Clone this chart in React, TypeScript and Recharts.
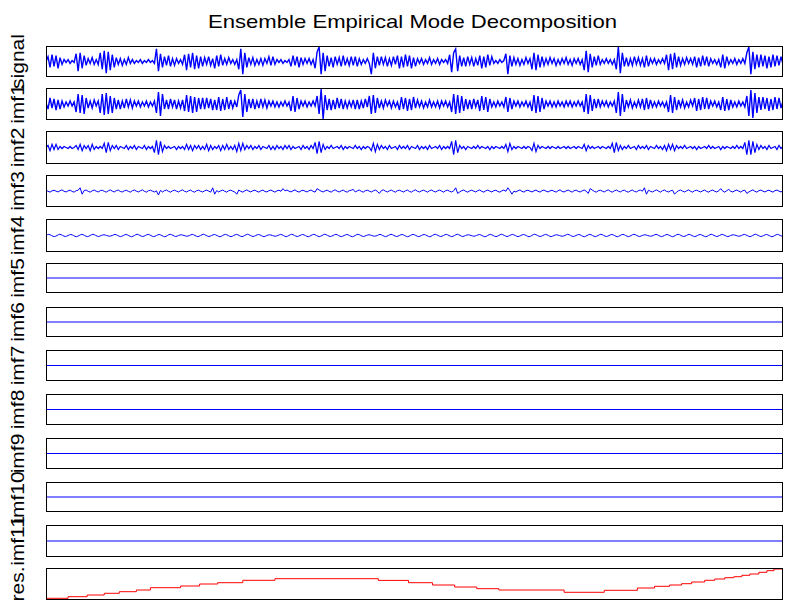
import React from "react";
import { LineChart, Line, XAxis, YAxis } from "recharts";

const TITLE = "Ensemble Empirical Mode Decomposition";
const labels = ["signal", "imf1", "imf2", "imf3", "imf4", "imf5", "imf6", "imf7", "imf8", "imf9", "imf10", "imf11", "res."];

// sample values (approx. pixel units around each panel's centre line)
const signal = [
  0, 5, -6, 7, -5, 6, -7, 4, -3,
  2, -1, 2, -2, 1, -1,
  8, -10, 9, -7, 6,
  -4, 3, -2, 4, -3, 2, -3,
  9, -8, 11, -12, 10, -9, 7, -6,
  4, -3, 3, -4, 2, -3, 4, -2, 2,
  -2, 1, -1, 2, -2, 1, -1, 2, -1, 1, -2,
  13, -10, 8,
  -6, 5, -4, 6, -5, 3, -4,
  3, -2, 2, -3,
  7, -9, 8, -6, 9, -8, 6, -7, 5,
  -5, 4, -3, 5, -4, 3,
  -7, 6, -5, 7,
  -4, 3, -3, 4, -2,
  2, -3, 2,
  -8, 13, -13, 9, -6,
  4, -3, 4, -4, 2, -3, 3, -4, 3, -2,
  5, -4, 5, -3,
  2, -1, 2, -2, 1, -1, 2,
  -5, 6, -4, 5, -6, 4, -3,
  3, -2, 3, -3, 2,
  -7, 10, 15, -13, 9, -10, 6,
  -5, 4, -6, 5, -3, 4, -5, 6, -4, 3, -4,
  5, -4, 5, -5, 3,
  -3, 2, -2, 3, -2,
  -13, 9, -7,
  5, -4, 5, -3, 4, -5, 3, -4, 5, -3,
  6, -7, 5, -6, 7, -5, 6, -7, 4, -5,
  3, -2, 3, -3, 2, -2, 4, -3, 2, -2, 3, -3, 2, -1, 2, -2,
  7, -11, 9, 13,
  -10, 6, -5, 4, -5, 5, -3, 4, -5, 3, -4,
  6, -7, 5, -6, 7, -4, 5,
  -2, 1, -2, 2, -1, 1,
  8, -13, 6, -5,
  4, -3, 3, -4, 2, -3, 4, -2, 3,
  -8, 9, -9, 7, -6, 5,
  -4, 3, -3, 4, -2, 3, -4, 2, -3, 3, -2, 4, -3, 2, -4, 3, -2, 3, -3, 2,
  -9, 11, -11, 8,
  -6, 5, -4, 6,
  -3, 2, -2, 3, -2, 2, -3, 2,
  -8, 15, -12, 9,
  -5, 4, -5, 3, -4, 5, -3, 4, -4, 3,
  -6, 6, -5,
  3, -2, 3, -3, 2, -2, 3, -2,
  7, -9, 8, -8, 9, -6, 5,
  -4, 3, -3, 4, -2, 3, -3,
  5, -6, 4, -5, 6, -4, 5, -5,
  3, -2, 2, -3, 2,
  -6, 7, -7, 5,
  -3, 2, -2, 3, -3, 2, -2, 3, -2,
  9, 15, -13, 10, -8,
  7, -6, 7, -5, 6, -7, 5, -6, 7, -5, 6, -4, 5, -3,
];

const imf1 = [
  1, -5, 6, -4, 5, -6, 4, -5, 3,
  -3, 2, -2, 3, -2, 2,
  -8, 10, -9, 9, -10, 6,
  -4, 3, -4, 4, -2, 3,
  -9, 10, -11, 11, -10, 8, -9, 6,
  -5, 4, -5, 3, -4, 5, -3, 4, -4,
  3, -2, 3, -3, 2, -2, 3, -3, 2, -2, 3,
  -9, 12, -12, 10,
  -5, 4, -5, 5, -3, 4, -5, 3, -4, 4,
  -7, 9, -8, 8, -9, 7, -8, 6, -5,
  6, -5, 6, -4, 5, -6, 4,
  -6, 7, -7, 5, -6, 7, -5, 4,
  -4, 3, -3,
  9, 14, -13, 10, -8,
  5, -4, 5, -5, 3, -4, 5, -3, 4, -4,
  3, -2, 3, -3, 2, -3, 2, -2, 3, -2, 2,
  -7, 8, -8, 6, -5,
  3, -2, 3, -3, 2, -2, 3, -2,
  8, -10, 15, -15, 9,
  -6, 5, -6, 4, -5, 6, -4, 5, -5, 3,
  -4, 3, -3, 4,
  -5, 4, -5, 3, -4, 5, -3,
  8, -10, 9, -9, 6,
  -4, 3, -4, 4, -2, 3, -4, 3, -3, 2,
  -6, 7, -5, 6, -7, 5, -6, 7, -4,
  4, -3, 3, -4, 2, -3, 4, -3, 2, -3, 3, -4, 3, -2, 3, -3, 2,
  -8, 10, -10, 9, -9, 8, -7, 5,
  -5, 4, -5, 5, -3, 4,
  -7, 8, -6, 7, -8, 5,
  -3, 2, -3, 3, -2, 2, -3,
  7, -8, 6, -5,
  3, -2, 3, -3, 2, -2, 3, -3, 2,
  -7, 9, -9, 8, -8, 6, -5,
  3, -2, 3, -3, 2, -3, 3, -2, 2, -3, 3, -2, 3, -3, 2, -2, 3, -2, 2,
  -8, 10, -10, 9, -7,
  5, -4, 5, -3,
  3, -2, 3, -3, 2, -2, 3,
  -9, 12, -12, 10, -8,
  4, -3, 4, -4, 2, -3, 4, -3,
  5, -6, 6, -5, 4,
  -3, 2, -3, 3, -2, 2, -3, 2,
  -8, 9, -9, 7, -6,
  4, -3, 4, -4, 2, -3, 4, -2,
  6, -7, 5, -6, 7, -5, 6, -5,
  3, -2, 3, -3, 2,
  -6, 7, -7, 5, -6, 4,
  -3, 2, -3, 3, -2, 2, -3,
  8, -12, 14, -14, 11, -9,
  7, -6, 7, -5, 6, -7, 5, -6, 7, -5, 6, -4, 3,
];

const imf2 = [
  0, 2, -3, 3, -2, 3, -2, 1,
  -1, 1, 0, -1, 1, -1, 0,
  2, -2, 3, -3, 2, -1, 2, -3, 3, -2, 1,
  -1, 1, -1,
  4, -5, 5, -3,
  2, -1, 2, -2, 1, 0, -1, 2, -2, 1, -1, 2, -2, 1, 0, -1, 2, -2, 1, -1, 1,
  -5, 7, -7, 6, -4,
  2, -1, 1, -1, 0, 1, -2, 1, -1, 1,
  -2, 3, -2, 2, -3, 2, -1, 2, -2, 1, -2, 3, -3, 2, -2, 1, -1, 2, -3, 2, -2, 3, -2, 1, -2, 2,
  -4, 4, -3, 4, -2,
  2, -1, 2, -2, 1, -1, 2, -2, 1, 0, -1, 2, -2, 1, -2, 2, -1, 1, -2, 2, -1, 2, -2, 1, -1, 0, 1, -2, 2, -1, 1, -2, 2, -1,
  5, -6, 6, -5, 3,
  -2, 1, -1, 2, -1, 0, 1, -1, 2, -2, 1, -1, 1, 0, -1, 2, -1, 1, -2, 1, -1, 1, 0,
  -3, 4, -4, 3,
  -2, 2, -1, 1, -2, 2, -1, 0, 1, -2, 2, -1, 1, -1, 2, -2, 1, 0, -1, 2, -2, 1, -1, 1, -2, 2, -1, 0, 1, -1, 2, -2, 1, -1, 1, -1,
  6, -7, 7, -5,
  2, -1, 1, -2, 1, 0, -1, 1, -1, 2, -1, 1, 0, -1, 1, -2, 1, -1, 1, 0, -1, 1, -1,
  3, -4, 4, -2,
  1, -1, 1, 0, -1, 1, -1, 1, 0,
  -3, 4, -4, 2,
  -1, 1, 0, -1, 1, -1, 1, 0, -1, 1, -1, 0, 1, -1, 1, -1, 0, 1, -1, 1, 0, -1,
  3, -3, 2,
  -1, 1, -1, 0, 1, -1, 1, 0, -1, 1, -1,
  4, -5, 5, -3,
  2, -2, 1, -1, 2, -1, 0, 1, -2, 2, -1, 1, -1, 2, -2, 1, 0, -1, 2, -1, 1, -2,
  2, -3, 3, -2, 3, -3, 2, -1,
  1, -1, 2, -1, 0, 1, -1, 1, -2, 1, -1, 0, 1, -1, 2, -1, 1, -1, 0, 1, -2, 1, -1, 1, 0, -1, 1, -1, 2, -1, 1, -1,
  5, -7, 7, -7, 6, -5, 3,
  -2, 2, -1, 1, -2, 2, -1, 0, 1, -2, 2, -1, 1,
];

const imf3 = [
  .6, -.2, -.7, .1, .5, -.1, -.6, .2, .7, -.2, -.6, .1, .6, -.3, -.7, .2,
  .5, 2, -2, .3, .6, -.2, -.7, .1, .6, -.1, -.6, .2, .5, -.2, -.7, .1,
  .7, -.1, -.6, .2, .6, -.3, -.6, .1, .5, -.2, -.7, .2, .6, -.1, -.6, .1,
  .7, -.2, -.7, .2, .5, -.1, -.6, .1, -2.5, .4, -.6, .2, .6, -.2, -.7, .1,
  .5, -.1, -.6, .2, .7, -.2, -.6, .1, .6, -.3, -.7, .2, .5, -.2, -.6, .1,
  .6, -.1, -.7, 2, -2, .3, -.6, .1, .6, -.2, -.7, .2, .5, -.1, -.6, -2,
  .6, -.2, -.7, .1, .7, -.1, -.6, .2, .5, -.2, -.7, .1, .6, -.3, -.6, .2,
  .6, -.1, -.7, .1, .5, -.2, 1.5, .1, .6, -.1, -.6, .2, .7, -.2, -.7, .1,
  .5, -.1, -.6, .2, .6, -.2, -.7, 1.5, .6, -.1, -.6, .1, .5, -.2, -.7, .2,
  .7, -.1, -.6, .1, .6, -.3, -.7, .2, .5, 1, -.6, .1, .6, -.2, -.7, .2,
  .5, -.1, -.6, .1, .6, -.2, -1.5, .2, .7, -.1, -.6, .1, .6, -.2, -.7, .2,
  .5, -.1, -.6, .1, .6, -.3, -.7, .2, .7, -.2, -.6, .1, .5, -.1, -.7, .2,
  .6, -.2, -.6, .1, .6, -.1, -.7, .2, .5, -.2, -.6, .1, 2, -1.5, -.6, .2,
  .6, -.2, -.7, .1, .5, -.1, -.6, .2, .7, -.2, -.7, .1, .6, -.1, -.6, .2,
  .5, -.3, -.7, .1, .6, -.2, 2, .2, -2, -.1, -.6, .1, .7, -.2, -.7, .2,
  .5, -.1, -.6, .1, .6, -.2, -.7, .2, .6, -.1, -.6, .1, .5, -.2, -.7, .2,
  .7, -.3, -.6, .1, .6, -.1, -.7, .2, .5, -.2, -.6, .1, .6, -.1, -1.5, 1.5,
  .6, -.2, -.7, .1, .5, -.1, -.6, .2, .7, -.2, -.7, .1, .6, -.1, -.6, .2,
  .5, -.3, -.7, .1, .6, -.2, -.6, .2, .6, -.1, 2, -2, .5, -.2, -.6, .1,
  .7, -.1, -.7, .2, .6, -.2, -.6, .1, .5, -2, -.7, .2, .6, -.1, -.6, .1,
  .7, -.2, -.7, .2, .5, -.1, -.6, .1, .6, -.3, -.7, .2, .6, -.2, -.6, .1,
  1.5, -.1, -.7, .2, 1, -.2, -.6, .1, .6, -.1, -.7, .2, .5, -1.5, -.6, .1,
  .7, -.2, -.7, .2, .6, -.1, -.6, .1, .5, -.2, -.7, .2, .6, -.1, -.6, .1,
];

const imf4 = [
  0, 1.1, 0, -1.1, 0, 1.2, .1, -1, 0, 1, -.1, -1.2, 0, 1.1, 0, -1.1, 0, 1.2, .1, -1, 0, .7, 0, -.7, 0, 1.1, 0, -1.1, 0, 1, -.1, -1.2,
  0, 1.2, .1, -1, 0, 1.1, 0, -1.1, 0, 1, -.1, -1.2, 0, 1.2, .1, -1, 0, .7, 0, -.7, 0, 1.1, 0, -1.1, 0, 1.2, .1, -1, 0, 1, -.1, -1.2,
  0, 1.1, 0, -1.1, 0, 1.1, 0, -1.1, 0, 1.2, .1, -1, 0, 1, -.1, -1.2, 0, .7, 0, -.7, 0, 1.1, 0, -1.1, 0, 1.2, .1, -1, 0, 1, -.1, -1.2,
  0, 1.1, 0, -1.1, 0, 1.2, .1, -1, 0, 1.1, 0, -1.1, 0, 1, -.1, -1.2, 0, 1.2, .1, -1, 0, .7, 0, -.7, 0, 1.1, 0, -1.1, 0, 1.2, .1, -1,
  0, 1, -.1, -1.2, 0, 1.1, 0, -1.1, 0, 1, -.1, -1.2, 0, 1.2, .1, -1, 0, 1.1, 0, -1.1, 0, 1.2, .1, -1, 0, .7, 0, -.7, 0, 1, -.1, -1.2,
  0, 1.1, 0, -1.1, 0, 1.2, .1, -1, 0, 1.1, 0, -1.1, 0, 1, -.1, -1.2, 0, 1.2, .1, -1, 0, 1.1, 0, -1.1, 0, .7, 0, -.7, 0, 1.2, .1, -1,
  0, 1, -.1, -1.2, 0, 1.1, 0, -1.1, 0, 1.2, .1, -1, 0, 1, -.1, -1.2, 0, 1.1, 0, -1.1, 0, 1.2, .1, -1, 0, .7, 0, -.7, 0, 1.1, 0, -1.1,
  0, 1, -.1, -1.2, 0, 1.2, .1, -1, 0, 1.1, 0, -1.1, 0, 1, -.1, -1.2, 0, 1.2, .1, -1, 0, 1.1, 0, -1.1, 0, .7, 0, -.7, 0, 1.1, 0, -1.1,
  0, 1.2, .1, -1, 0, 1, -.1, -1.2, 0, 1.1, 0, -1.1,
];

// imf5..imf11 are flat at zero
const imf5 = [0, 0];
const imf6 = [0, 0];
const imf7 = [0, 0];
const imf8 = [0, 0];
const imf9 = [0, 0];
const imf10 = [0, 0];
const imf11 = [0, 0];

// residual: stepped trend (sample position, level)
const resT = [0, 11, 20.5, 29, 36.5, 45, 52, 67, 76.5, 85.5, 98, 114, 165.5, 180.5, 192.5, 203.5, 214.5, 225.5, 258, 278, 294.5, 303, 310.5, 316.5, 321.5, 328, 333, 338, 342.5, 346.5, 350.5, 355, 359, 362.5, 367];
const resV = [1.7, 3.3, 5, 6.7, 8.3, 10, 12.3, 14, 16, 17.3, 19.7, 21.3, 19.6, 17.3, 15, 13, 11.3, 10, 7.7, 9.7, 12, 13.7, 15, 16.3, 18, 19.7, 21, 22.3, 23.3, 24.7, 26, 27.7, 29.3, 31, 31];

const LAST = 367;
const tops = [46, 88, 131, 175, 219, 263, 307, 350, 394, 438, 482, 525, 568];
const bottoms = [77, 120, 164, 207, 252, 293, 337, 381, 425, 469, 512, 557, 600];
const LEFT = 46;
const WIDTH = 737;
const FONT = "'Liberation Sans', Arial, Helvetica, sans-serif";

function toRows(values: number[]) {
  return values.map((v, i) => ({ t: (i * LAST) / (values.length - 1), v }));
}

const series = [signal, imf1, imf2, imf3, imf4, imf5, imf6, imf7, imf8, imf9, imf10, imf11];
// per-panel y range and stroke
const domains: [number, number][] = [[-16, 16], [-16, 16], [-16, 16], [-10, 10], [-16, 16], [-16, 16], [-16, 16], [-16, 16], [-16, 16], [-16, 16], [-16, 16], [-16, 16]];
const widths = [1.4, 1.4, 1.2, 1, 1, 1, 1, 1, 1, 1, 1, 1];

function Panel({ idx, data, color, domain, curve, sw }: { idx: number; data: { t: number; v: number }[]; color: string; domain: [number, number]; curve: any; sw: number }) {
  const h = bottoms[idx] - tops[idx];
  return (
    <div style={{ position: "absolute", left: LEFT, top: tops[idx], width: WIDTH, height: h }}>
      <LineChart width={WIDTH} height={h} data={data} margin={{ top: 0, right: 0, bottom: 0, left: 0 }}>
        <XAxis type="number" dataKey="t" domain={[0, LAST]} hide />
        <YAxis type="number" domain={domain} allowDataOverflow hide />
        <Line type={curve} dataKey="v" stroke={color} strokeWidth={sw} dot={false} isAnimationActive={false} />
      </LineChart>
      <div style={{ position: "absolute", left: 0, top: 0, width: WIDTH, height: h, border: "1px solid #000", boxSizing: "border-box", pointerEvents: "none" }} />
    </div>
  );
}

export default function App() {
  const resRows = resT.map((t, i) => ({ t, v: resV[i] }));
  return (
    <div style={{ position: "absolute", left: 0, top: 0, width: 787, height: 601, background: "#fff", overflow: "hidden" }}>
      {series.map((s, i) => (
        <Panel key={labels[i]} idx={i} data={toRows(s)} color="#0000ff" domain={domains[i]} curve={i === 4 ? "monotone" : "linear"} sw={widths[i]} />
      ))}
      <Panel idx={12} data={resRows} color="#ff0000" domain={[0, 32]} curve="stepAfter" sw={1} />
      <svg width={787} height={601} style={{ position: "absolute", left: 0, top: 0, pointerEvents: "none" }}>
        <text x={208} y={27.5} fontFamily={FONT} fontSize={18.5} fill="#000" textLength={409} lengthAdjust="spacingAndGlyphs">
          {TITLE}
        </text>
        {labels.map((lab, i) => (
          <text
            key={lab}
            transform={`translate(24, ${(tops[i] + bottoms[i]) / 2}) scale(0.91, 1) rotate(-90)`}
            textAnchor="middle"
            fontFamily={FONT}
            fontSize={21}
            fill="#000"
          >
            {lab}
          </text>
        ))}
      </svg>
    </div>
  );
}
